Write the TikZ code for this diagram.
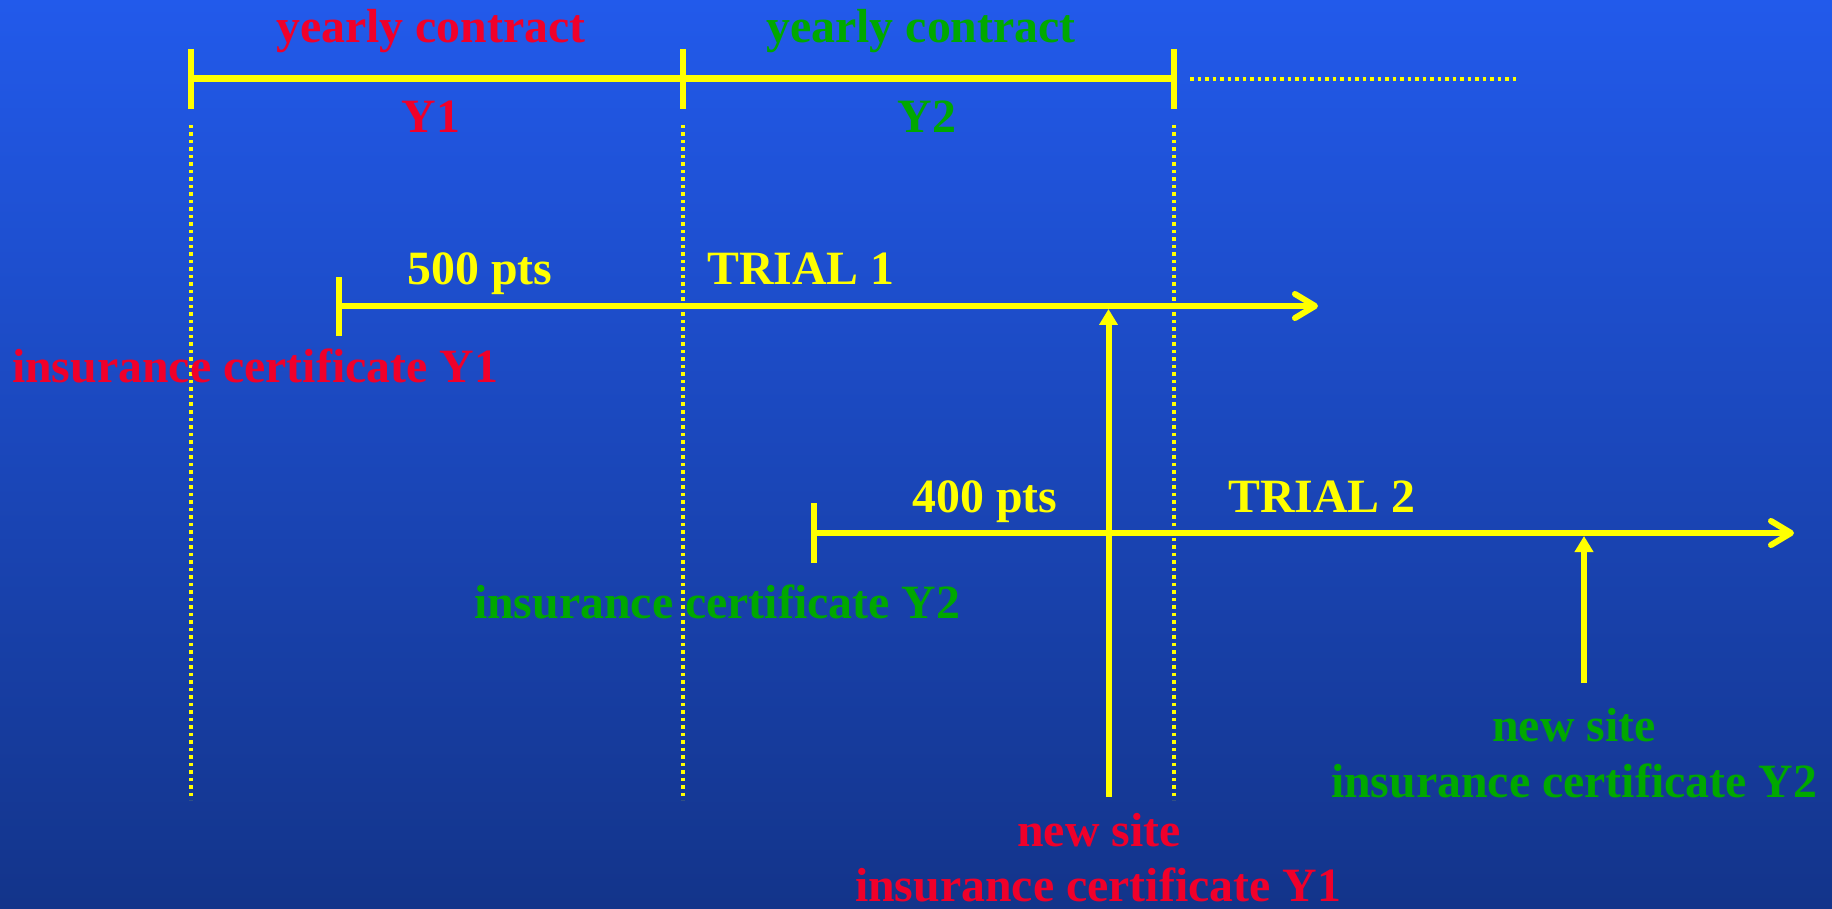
\documentclass[tikz,border=0pt]{standalone}
\usepackage{fontspec}
\setmainfont{Liberation Serif}
\usetikzlibrary{arrows.meta}
\definecolor{bgtop}{RGB}{34,90,235}
\definecolor{bgbot}{RGB}{19,52,138}
\definecolor{cred}{RGB}{240,0,42}
\definecolor{cgreen}{RGB}{0,168,0}
\definecolor{cyel}{RGB}{255,255,0}
\tikzset{
  lbl/.style={font=\fontsize{47.8}{57}\selectfont\bfseries, inner sep=0pt, anchor=base},
  redlbl/.style={lbl, text=cred},
  greenlbl/.style={lbl, text=cgreen},
  yellbl/.style={lbl, text=cyel},
  bar/.style={draw=cyel, line width=7pt},
  tline/.style={draw=cyel, line width=6pt},
  tick/.style={draw=cyel, line width=5.5pt},
  dotline/.style={draw=cyel, line width=4pt, dash pattern=on 3.5pt off 4pt},
  harrow/.style={tline, -{Straight Barb[length=20pt,width=24pt,line cap=round,line join=round]}},
  varrow/.style={tline, -{Triangle[length=16pt,width=18pt]}}
}
\begin{document}
\begin{tikzpicture}[x=1pt,y=-1pt]
\shade[top color=bgtop, bottom color=bgbot] (0,0) rectangle (1832,909);
\useasboundingbox (0,0) rectangle (1832,909);
% top timeline
\coordinate (a0) at (191,79);
\coordinate (a1) at (683,79);
\coordinate (a2) at (1174,79);
\coordinate (a0t) at (191,49); \coordinate (a0b) at (191,109);
\coordinate (a1t) at (683,49); \coordinate (a1b) at (683,109);
\coordinate (a2t) at (1174,49); \coordinate (a2b) at (1174,109);
\coordinate (ext) at (1516,79);
\coordinate (ext0) at (1190,79);
\draw[bar] (a0) -- (a2);
\draw[tick] (a0t) -- (a0b);
\draw[tick] (a1t) -- (a1b);
\draw[tick] (a2t) -- (a2b);
\draw[dotline] (ext0) -- (ext);
% vertical dotted lines
\coordinate (d0t) at (191,125); \coordinate (d0b) at (191,800);
\coordinate (d1t) at (683,125); \coordinate (d1b) at (683,800);
\coordinate (d2t) at (1174,125); \coordinate (d2b) at (1174,800);
\draw[dotline] (d0t) -- (d0b);
\draw[dotline] (d1t) -- (d1b);
\draw[dotline] (d2t) -- (d2b);
% top labels
\node[redlbl] (yc1) at (431,43) {yearly contract};
\node[greenlbl] (yc2) at (921,43) {yearly contract};
\node[redlbl] (y1) at (431,133) {Y1};
\node[greenlbl] (y2) at (927,133) {Y2};
% trial 1
\coordinate (t1s) at (339,306);
\coordinate (t1e) at (1318,306);
\coordinate (t1tt) at (339,277); \coordinate (t1tb) at (339,336);
\draw[harrow] (t1s) -- (t1e);
\draw[tick] (t1tt) -- (t1tb);
\node[yellbl] (p500) at (480,285) {500 pts};
\node[yellbl] (tr1) at (801,285) {TRIAL 1};
\node[redlbl] (ic1) at (255,382) {insurance certificate Y1};
% trial 2
\coordinate (t2s) at (814,533);
\coordinate (t2e) at (1794,533);
\coordinate (t2tt) at (814,503); \coordinate (t2tb) at (814,563);
\draw[harrow] (t2s) -- (t2e);
\draw[tick] (t2tt) -- (t2tb);
\node[yellbl] (p400) at (985,512) {400 pts};
\node[yellbl] (tr2) at (1322,512) {TRIAL 2};
\node[greenlbl] (ic2) at (717,618) {insurance certificate Y2};
% new site arrows
\coordinate (ns1b) at (1108.5,797);
\coordinate (ns1t) at (1108.5,309);
\draw[varrow] (ns1b) -- (ns1t);
\coordinate (ns2b) at (1584,683);
\coordinate (ns2t) at (1584,536);
\draw[varrow] (ns2b) -- (ns2t);
\node[redlbl] (ns1a) at (1099,846) {new site};
\node[redlbl] (ns1c) at (1098,901) {insurance certificate Y1};
\node[greenlbl] (ns2a) at (1574,741) {new site};
\node[greenlbl] (ns2c) at (1574,797) {insurance certificate Y2};
\end{tikzpicture}
\end{document}
